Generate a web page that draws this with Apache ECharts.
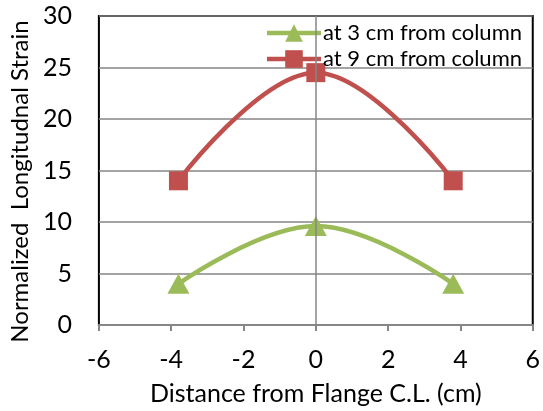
<!DOCTYPE html>
<html><head><meta charset="utf-8">
<script src="https://cdn.jsdelivr.net/npm/echarts@6/dist/echarts.min.js"></script>
<style>html,body{margin:0;padding:0;background:#fff}#c{width:543px;height:411px}</style>
</head><body><div id="c"></div>
<script>
const xValues = [-3.8, 0, 3.8];
const strain3cm = [4.0, 9.6, 4.0];
const strain9cm = [14.0, 24.5, 14.0];
const seriesNames = ['at 3 cm from column', 'at 9 cm from column'];
const xTitle = 'Distance from Flange C.L. (cm)';
const yTitle = 'Normalized  Longitudnal Strain';

const FONT = 'Lato';
const chart = echarts.init(document.getElementById('c'), null, {renderer: 'canvas'});
const pairs = arr => xValues.map((x, i) => [x, arr[i]]);
chart.setOption({
  animation: false,
  textStyle: {fontFamily: FONT},
  grid: {left: 96, right: 6, top: 16, bottom: 86, show: true, borderColor: '#000', borderWidth: 2},
  legend: {
    orient: 'vertical', right: 16, top: 17, itemWidth: 54, itemHeight: 22, itemGap: 4,
    textStyle: {fontFamily: FONT, fontSize: 22, color: '#000', padding: [0,0,0,-3]},
    lineStyle: {width: 4.5},
    data: seriesNames
  },
  xAxis: {
    type: 'value', min: -6, max: 6, interval: 2,
    axisLine: {show: true, onZero: false, lineStyle: {color: '#868686', width: 2}},
    axisTick: {show: true, length: 6, lineStyle: {color: '#868686', width: 2}},
    axisLabel: {fontFamily: FONT, fontSize: 25, color: '#000', margin: 22},
    splitLine: {show: false},
    name: xTitle, nameLocation: 'middle', nameGap: 56,
    nameTextStyle: {fontFamily: FONT, fontSize: 25, color: '#000'}
  },
  yAxis: {
    type: 'value', min: 0, max: 30, interval: 5,
    axisLine: {show: false}, axisTick: {show: false},
    axisLabel: {fontFamily: FONT, fontSize: 25, color: '#000', margin: 27},
    splitLine: {show: true, lineStyle: {color: '#868686', width: 1.5}},
    name: yTitle, nameLocation: 'middle', nameGap: 62,
    nameTextStyle: {fontFamily: FONT, fontSize: 24, color: '#000', padding: [0, 22, 0, 0]}
  },
  series: [
    {
      name: seriesNames[0], type: 'line', data: pairs(strain3cm), smooth: 0.4,
      symbol: 'triangle', symbolSize: [22, 20], showAllSymbol: true,
      lineStyle: {color: '#9BBB59', width: 4.5}, itemStyle: {color: '#9BBB59'},
      markLine: {silent: true, symbol: 'none', label: {show: false},
        lineStyle: {color: '#868686', width: 1.5, type: 'solid'},
        data: [{xAxis: 0}]},
      z: 3
    },
    {
      name: seriesNames[1], type: 'line', data: pairs(strain9cm), smooth: 0.4,
      symbol: 'rect', symbolSize: 19, showAllSymbol: true,
      lineStyle: {color: '#C0504D', width: 4.5}, itemStyle: {color: '#C0504D'},
      z: 3
    }
  ]
});
</script></body></html>
